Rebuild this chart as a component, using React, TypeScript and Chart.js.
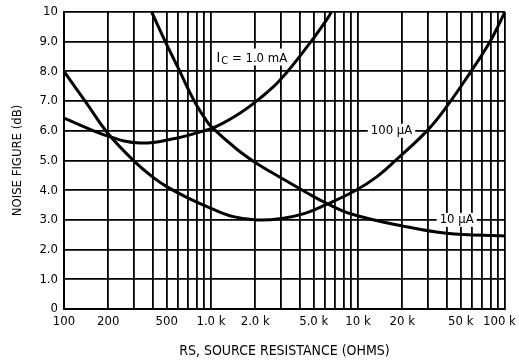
import React, { useEffect, useRef } from 'react';
import { Chart, registerables } from 'chart.js';

Chart.register(...registerables);

const FONT = "'Liberation Sans Narrow', 'DejaVu Sans Condensed', 'Arial Narrow', sans-serif";

// Grid / tick values on the source-resistance axis (ohms)
const gridResistances = [
  100, 200, 300, 400, 500, 600, 700, 800, 900,
  1000, 2000, 3000, 4000, 5000, 6000, 7000, 8000, 9000,
  10000, 20000, 30000, 40000, 50000, 60000, 70000, 80000, 90000,
  100000,
];
const labeledResistances = [100, 200, 500, 1000, 2000, 5000, 10000, 20000, 50000, 100000];
const labeledResistanceTexts = ['100', '200', '500', '1.0 k', '2.0 k', '5.0 k', '10 k', '20 k', '50 k', '100 k   '];

const noiseTicks = [0, 1, 2, 3, 4, 5, 6, 7, 8, 9, 10];
const noiseTickTexts = ['0', '1.0', '2.0', '3.0', '4.0', '5.0', '6.0', '7.0', '8.0', '9.0', '10'];

// IC = 1.0 mA
const r1mA = [100, 200, 330, 555, 800, 1090, 1580, 2160, 2950, 4700, 6100, 6600];
const nf1mA = [6.43, 5.82, 5.59, 5.73, 5.93, 6.15, 6.6, 7.1, 7.71, 8.95, 9.73, 10];

// 100 uA
const r100uA = [100, 140, 200, 300, 400, 500, 700, 1000, 1420, 2050, 3030, 4360, 6100, 9550, 13400, 18000, 30000, 41000, 57800, 79000, 100000];
const nf100uA = [8.0, 6.98, 5.9, 4.98, 4.45, 4.12, 3.73, 3.39, 3.11, 3.0, 3.05, 3.22, 3.52, 3.98, 4.45, 5.0, 6.04, 6.88, 7.95, 9.0, 10.0];

// 10 uA
const r10uA = [395, 500, 600, 700, 800, 900, 1000, 1500, 2050, 3030, 4360, 6100, 9000, 20300, 40000, 100000];
const nf10uA = [10, 8.9, 8.1, 7.4, 6.85, 6.45, 6.15, 5.38, 4.9, 4.4, 3.95, 3.56, 3.2, 2.79, 2.55, 2.46];

const curveLabels = [
  { text: '100 \u00b5A', r: 16900, nf: 6.0 },
  { text: '10 \u00b5A', r: 46900, nf: 3.0 },
];
const icLabel = { main: 'I', sub: 'C', rest: ' = 1.0 mA', r: 1092, nf: 8.5 };

const toPoints = (xs: number[], ys: number[]) => xs.map((x, i) => ({ x, y: ys[i] }));

export default function App() {
  const ref = useRef<HTMLCanvasElement>(null);

  useEffect(() => {
    const canvas = ref.current;
    if (!canvas) return;

    const labelPlugin = {
      id: 'curveLabels',
      afterDatasetsDraw(chart: any) {
        const { ctx } = chart;
        const xs = chart.scales.x;
        const ys = chart.scales.y;
        ctx.save();
        ctx.font = `13px ${FONT}`;
        ctx.textBaseline = 'middle';
        ctx.textAlign = 'center';
        for (const a of curveLabels) {
          const px = xs.getPixelForValue(a.r);
          const py = ys.getPixelForValue(a.nf);
          const w = ctx.measureText(a.text).width;
          ctx.fillStyle = '#fff';
          ctx.fillRect(px - w / 2 - 3, py - 7, w + 6, 14);
          ctx.fillStyle = '#000';
          ctx.fillText(a.text, px, py);
        }
        // Ic label with subscript
        const lx = xs.getPixelForValue(icLabel.r);
        const ly = ys.getPixelForValue(icLabel.nf);
        ctx.textAlign = 'left';
        ctx.textBaseline = 'alphabetic';
        ctx.font = `14px ${FONT}`;
        const wI = ctx.measureText(icLabel.main).width;
        ctx.font = `11px ${FONT}`;
        const wC = ctx.measureText(icLabel.sub).width;
        ctx.font = `13px ${FONT}`;
        const wR = ctx.measureText(icLabel.rest).width;
        const total = wI + 1 + wC + wR;
        ctx.fillStyle = '#fff';
        ctx.fillRect(lx - 2, ly - 8, total + 4, 17);
        ctx.fillStyle = '#000';
        const base = ly + 5;
        ctx.font = `14px ${FONT}`;
        ctx.fillText(icLabel.main, lx, base);
        ctx.font = `11px ${FONT}`;
        ctx.fillText(icLabel.sub, lx + wI + 1, base + 2);
        ctx.font = `13px ${FONT}`;
        ctx.fillText(icLabel.rest, lx + wI + 1 + wC, base);
        ctx.restore();
      },
    };

    const lineStyle = {
      borderColor: '#000',
      borderWidth: 3,
      pointRadius: 0,
      fill: false,
      tension: 0.4,
    };

    const chart = new Chart(canvas, {
      type: 'line',
      data: {
        datasets: [
          { label: 'IC = 1.0 mA', data: toPoints(r1mA, nf1mA), ...lineStyle },
          { label: '100 uA', data: toPoints(r100uA, nf100uA), ...lineStyle },
          { label: '10 uA', data: toPoints(r10uA, nf10uA), ...lineStyle },
        ],
      },
      options: {
        animation: false,
        responsive: true,
        maintainAspectRatio: false,
        layout: { padding: { left: 0, right: 14, top: 12, bottom: 0 } },
        plugins: {
          legend: { display: false },
          tooltip: { enabled: false },
        },
        scales: {
          x: {
            type: 'logarithmic',
            min: 100,
            max: 100000,
            afterBuildTicks: (s: any) => {
              s.ticks = gridResistances.map((v) => ({ value: v }));
            },
            afterFit: (s: any) => {
              s.height = 51;
              s.paddingLeft = 0;
              s.paddingRight = 0;
            },
            grid: { color: '#000', lineWidth: 1.8, drawTicks: false },
            border: { color: '#000', width: 2 },
            ticks: {
              autoSkip: false,
              maxRotation: 0,
              minRotation: 0,
              padding: 5,
              color: '#000',
              font: { family: FONT, size: 13 },
              callback: (v: any) => {
                const i = labeledResistances.indexOf(Number(v));
                return i >= 0 ? labeledResistanceTexts[i] : '';
              },
            },
            title: {
              display: true,
              text: 'RS, SOURCE RESISTANCE (OHMS)',
              color: '#000',
              font: { family: FONT, size: 14 },
              padding: 0,
            },
          },
          y: {
            type: 'linear',
            min: 0,
            max: 10,
            afterBuildTicks: (s: any) => {
              s.ticks = noiseTicks.map((v) => ({ value: v }));
            },
            afterFit: (s: any) => {
              s.width = 64;
              s.paddingTop = 0;
              s.paddingBottom = 0;
            },
            grid: { color: '#000', lineWidth: 1.8, drawTicks: false },
            border: { color: '#000', width: 2 },
            ticks: {
              padding: 6,
              color: '#000',
              font: { family: FONT, size: 13 },
              callback: (v: any) => {
                const i = noiseTicks.indexOf(Number(v));
                return i >= 0 ? noiseTickTexts[i] : '';
              },
            },
            title: {
              display: true,
              text: 'NOISE FIGURE (dB)',
              color: '#000',
              font: { family: FONT, size: 13 },
              padding: { top: 10, bottom: 0 },
            },
          },
        },
      },
      plugins: [labelPlugin],
    });

    return () => chart.destroy();
  }, []);

  return (
    <div style={{ position: 'absolute', left: 0, top: 0, width: 519, height: 360, background: '#fff' }}>
      <canvas ref={ref} />
    </div>
  );
}
